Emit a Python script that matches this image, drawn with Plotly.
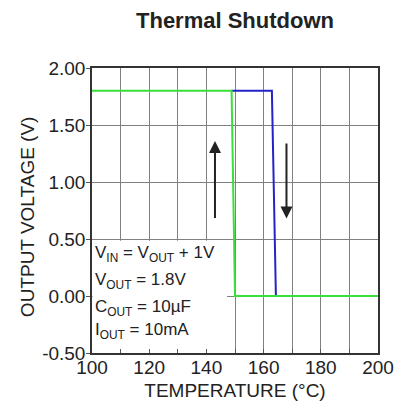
import plotly.graph_objects as go

# Data
green_x = [100, 148.8, 150, 200]
green_y = [1.8, 1.8, 0.0, 0.0]
blue_x = [148.8, 162.9, 164.3, 200]
blue_y = [1.8, 1.8, 0.0, 0.0]

x_ticks = [100, 120, 140, 160, 180, 200]
y_ticks = [-0.5, 0.0, 0.5, 1.0, 1.5, 2.0]
y_tick_labels = ["-0.50", "0.00", "0.50", "1.00", "1.50", "2.00"]

cond_lines = [
    "V<sub>IN</sub> = V<sub>OUT</sub> + 1V",
    "V<sub>OUT</sub> = 1.8V",
    "C<sub>OUT</sub> = 10µF",
    "I<sub>OUT</sub> = 10mA",
]
cond_y = [0.37, 0.135, -0.105, -0.31]

up_arrow = dict(x=143, y_from=0.67, y_to=1.36)
down_arrow = dict(x=168, y_from=1.35, y_to=0.68)

FONT = "Liberation Sans, Arial, sans-serif"

fig = go.Figure()
fig.add_trace(go.Scatter(x=blue_x, y=blue_y, mode="lines",
                         line=dict(color="#2323c8", width=2), showlegend=False))
fig.add_trace(go.Scatter(x=green_x, y=green_y, mode="lines",
                         line=dict(color="#3ae03a", width=2), showlegend=False))

# white box behind conditions text
fig.add_shape(type="rect", xref="x", yref="y", x0=100.2, x1=147.2, y0=-0.495, y1=0.485,
              fillcolor="white", line=dict(width=0), layer="between")

for t, yy in zip(cond_lines, cond_y):
    fig.add_annotation(x=100.4, y=yy, xref="x", yref="y", text=t, showarrow=False,
                       xanchor="left", yanchor="middle",
                       font=dict(family=FONT, size=17, color="#222"))

for a in (up_arrow, down_arrow):
    fig.add_annotation(x=a["x"], y=a["y_to"], ax=a["x"], ay=a["y_from"],
                       xref="x", yref="y", axref="x", ayref="y", text="",
                       showarrow=True, arrowhead=2, arrowsize=1.2, arrowwidth=2,
                       arrowcolor="#222")

# y-axis title as rotated annotation
fig.add_annotation(x=-0.227, y=0.477, xref="paper", yref="paper", text="OUTPUT VOLTAGE (V)",
                   showarrow=False, textangle=-90, xanchor="center", yanchor="middle",
                   font=dict(family=FONT, size=19, color="#222"))

# page body has an ~8px offset; compensate in figure size/margins
fig.update_layout(
    width=399, height=394,
    margin=dict(l=84, r=29, t=60, b=49, autoexpand=False),
    paper_bgcolor="white", plot_bgcolor="white",
    title=dict(text="<b>Thermal Shutdown</b>", xref="paper", x=0.5, xanchor="center",
               yref="container", y=0.97, yanchor="middle",
               font=dict(family=FONT, size=22, color="#222")),
    font=dict(family=FONT, color="#222"),
)
fig.update_xaxes(range=[100, 200], tickvals=x_ticks, automargin=False,
                 showgrid=True, gridcolor="#808080", gridwidth=1,
                 showline=True, linecolor="#333", linewidth=1.5, mirror=True,
                 ticks="inside", ticklen=4, tickcolor="#555", ticklabelstandoff=-4,
                 minor=dict(dtick=10, showgrid=True, gridcolor="#808080", ticks="inside", ticklen=4),
                 tickfont=dict(size=19), zeroline=False,
                 title=dict(text="TEMPERATURE (°C)", font=dict(size=19), standoff=7))
fig.update_yaxes(range=[-0.5, 2.0], tickvals=y_ticks, ticktext=y_tick_labels, automargin=False,
                 showgrid=True, gridcolor="#808080", gridwidth=1,
                 showline=True, linecolor="#333", linewidth=1.5, mirror=True,
                 ticks="outside", ticklen=4, tickcolor="#555", ticklabelstandoff=-3,
                 tickfont=dict(size=19), zeroline=False)

fig.write_html("out.html")
